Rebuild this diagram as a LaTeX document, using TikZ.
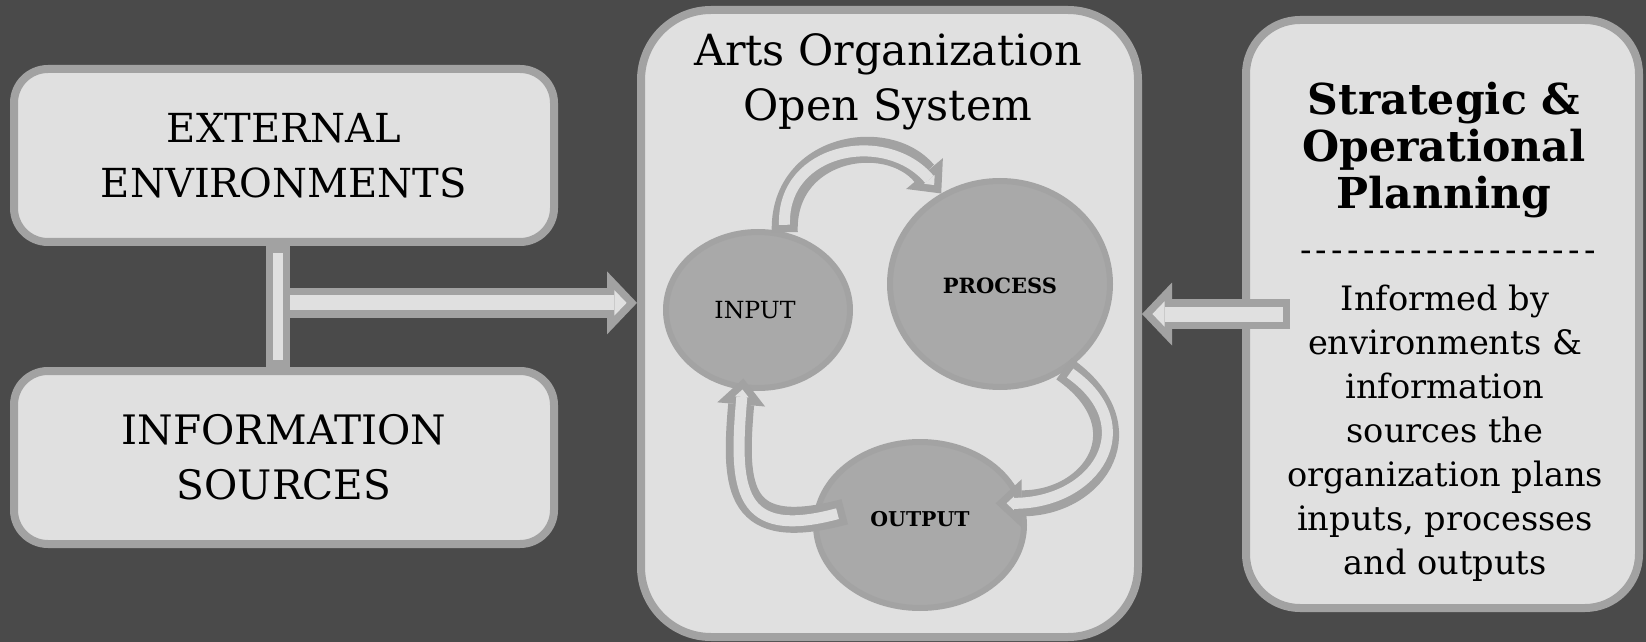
\documentclass[tikz,border=0pt]{standalone}
\usepackage{fontspec}
\setmainfont{DejaVu Serif}
\usetikzlibrary{positioning}
\usetikzlibrary{calc}
\usetikzlibrary{shapes.geometric}
\usetikzlibrary{arrows.meta}

\definecolor{backdrop}{HTML}{4A4A4A}
\definecolor{panel}{HTML}{E0E0E0}
\definecolor{rim}{HTML}{A2A2A2}
\definecolor{stage}{HTML}{A9A9A9}
\definecolor{stagerim}{HTML}{A3A3A3}

\tikzset{
  panelbox/.style={draw=rim, fill=panel, line width=4pt, rounded corners=17pt, align=center},
  stagenode/.style={ellipse, draw=stagerim, fill=stage, line width=3pt, inner sep=0pt},
  rail/.style={draw=panel, line width=5pt, shorten <=3.5pt, shorten >=3.5pt,
    preaction={draw=rim, line width=12pt, shorten <=0pt, shorten >=0pt}},
  feed/.style={draw=panel, line width=7.5pt, shorten >=5.2pt,
    -{Triangle[length=6.1pt, width=12.7pt, line width=0pt]},
    preaction={draw=rim, line width=15pt, shorten <=0pt, shorten >=0pt,
      -{Triangle[length=15pt, width=31.5pt, line width=0pt]}}},
  turn/.style={draw=panel, line width=5.5pt, shorten <=3.75pt, shorten >=5.5pt,
    -{Triangle[length=3.7pt, width=6.9pt, line width=0pt]},
    preaction={draw=rim, line width=13pt, shorten <=0pt, shorten >=0pt,
      -{Triangle[length=13pt, width=24pt, line width=0pt]}}}
}

\begin{document}
\begin{tikzpicture}[x=0.5pt, y=0.5pt]
  \fill[backdrop] (0,0) rectangle (1646,-642);
  \useasboundingbox (0,0) rectangle (1646,-642);

  % left column
  \node[panelbox, minimum width=270pt, minimum height=86.5pt, font=\fontsize{20}{27.5}\selectfont] (ext) at (284,-155.5) {EXTERNAL\\ENVIRONMENTS};
  \node[panelbox, minimum width=270pt, minimum height=86.5pt, font=\fontsize{20.3}{27.5}\selectfont, below=60.5pt of ext] (info) {INFORMATION\\SOURCES};
  \draw[rail] ([xshift=-3pt]ext.south) -- ([xshift=-3pt]info.north);

  % open system
  \node[panelbox, rounded corners=35pt, minimum width=248.5pt, minimum height=313.5pt] (system) at (889.5,-323.5) {};
  \node[font=\fontsize{21.5}{27.5}\selectfont, align=center] (systitle) at (888,-82) {Arts Organization\\Open System};
  \node[stagenode, minimum width=92pt, minimum height=78pt,
    label={[xshift=-1.5pt, font=\fontsize{11.8}{14}\selectfont]center:INPUT}] (input) at (758,-310) {};
  \node[stagenode, minimum width=110pt, minimum height=103pt,
    label={[yshift=-1pt, font=\bfseries\fontsize{10.5}{12}\selectfont]center:PROCESS}] (process) at (1000,-284) {};
  \node[stagenode, minimum width=104pt, minimum height=83pt,
    label={[yshift=3pt, font=\bfseries\fontsize{10.2}{12}\selectfont]center:OUTPUT}] (output) at (920,-525) {};
  \draw[turn] (input.71) to[out=92, in=130, looseness=1.35] (process.123);
  \draw[turn] ($(process.center)!.98!(process.-53)$) to[out=-35, in=0, looseness=1.7] ($(output.center)!.75!(output.16)$);
  \draw[turn] ($(output.center)!.72!(output.170)$) to[out=195, in=-95, looseness=1.7] ($(input.center)!.86!(input.-102)$);

  % planning
  \node[panelbox, rounded corners=27pt, minimum width=196.5pt, minimum height=294pt] (plan) at (1442.5,-314) {};
  \node[font=\bfseries\fontsize{21.3}{23.5}\selectfont, align=center] (plantitle) at (1444,-150) {Strategic \&\\Operational\\Planning};
  \node[font=\fontsize{17}{20}\selectfont\addfontfeature{Ligatures=TeXOff, LetterSpace=12.7}] (plandash) at (1448,-256) {-------------------};
  \node[font=\fontsize{16.8}{22}\selectfont, align=center] (planbody) at (1445,-433) {Informed by\\environments \&\\information\\sources the\\organization plans\\inputs, processes\\and outputs};

  % arrows into the system
  \coordinate (junction) at ($(ext.south)!.47!(info.north)+(3pt,0)$);
  \draw[feed] (junction) -- (junction -| system.west);
  \draw[feed, shorten <=3.75pt] ([xshift=24pt]plan.west) -- (plan.west -| system.east);
\end{tikzpicture}
\end{document}
